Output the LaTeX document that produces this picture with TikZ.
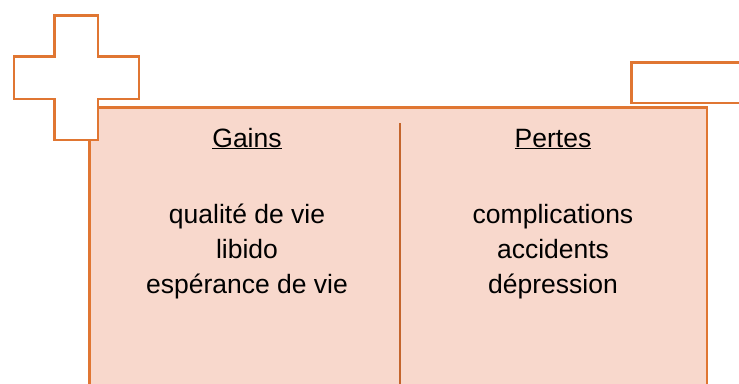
\documentclass[tikz,border=0pt]{standalone}
\usepackage{fontspec}
\setmainfont{Liberation Sans}
\definecolor{orangeline}{HTML}{E07632}
\definecolor{divline}{HTML}{C4652C}
\definecolor{panelfill}{HTML}{F8D8CC}
\tikzset{
  outline/.style={draw=orangeline, line width=2.6pt},
  label/.style={font=\fontsize{26.5}{32}\selectfont, anchor=base, inner sep=0pt, text=black},
}
\begin{document}
\begin{tikzpicture}[x=1pt, y=-1pt]
\useasboundingbox (0,0) rectangle (739,383);
% minus sign
\draw[outline, fill=white] (631.5,62.5) rectangle (750,103);
% main panel
\draw[outline, fill=panelfill] (89.5,107.5) rectangle (707,395);
% divider
\draw[draw=divline, line width=2.6pt] (400,123) -- (400,395);
% plus sign
\draw[outline, fill=white] (54.5,15.3) -- (97.8,15.3) -- (97.8,56.3) -- (139,56.3) -- (139,99) -- (97.8,99) -- (97.8,140) -- (54.5,140) -- (54.5,99) -- (13.8,99) -- (13.8,56.3) -- (54.5,56.3) -- cycle;
% texts
\node[label] (gains) at (247,147) {\underline{Gains}};
\node[label] (g1) at (247,223) {qualité de vie};
\node[label] (g2) at (247,258) {libido};
\node[label] (g3) at (247,293) {espérance de vie};
\node[label] (pertes) at (553,147) {\underline{Pertes}};
\node[label] (p1) at (553,223) {complications};
\node[label] (p2) at (553,258) {accidents};
\node[label] (p3) at (553,293) {dépression};
\end{tikzpicture}
\end{document}
